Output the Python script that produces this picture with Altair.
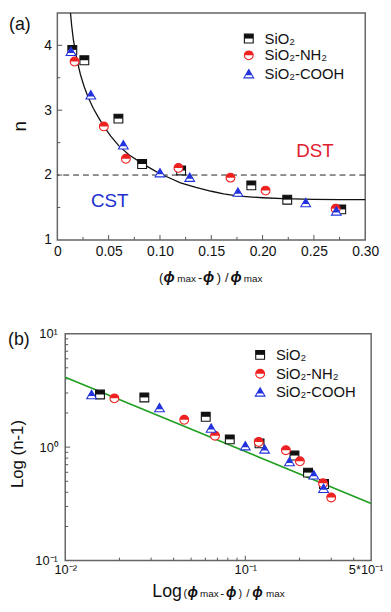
import altair as alt
import pandas as pd

FONT = "Liberation Sans"
TXT = "#111111"
TICK = "#555555"
FRAME = "#666666"

series_names = ["SiO₂", "SiO₂-NH₂", "SiO₂-COOH"]
series_colors = ["#111111", "#ee2020", "#2233dd"]

# ---------------- Panel (a): n vs (phi_max - phi)/phi_max ----------------
a_sio2_x = [0.0146, 0.0263, 0.0595, 0.0826, 0.1206, 0.189, 0.224, 0.2766]
a_sio2_n = [3.93, 3.77, 2.87, 2.17, 2.07, 1.84, 1.62, 1.47]
a_nh2_x = [0.0168, 0.0453, 0.0668, 0.118, 0.1687, 0.2029, 0.2712]
a_nh2_n = [3.75, 2.75, 2.25, 2.11, 1.96, 1.76, 1.48]
a_cooh_x = [0.0133, 0.0326, 0.0643, 0.100, 0.129, 0.176, 0.242, 0.2718]
a_cooh_n = [3.90, 3.23, 2.46, 2.03, 1.96, 1.73, 1.57, 1.44]

curve_x = [0.0128, 0.0140, 0.0155, 0.0171, 0.0195, 0.0225, 0.0260, 0.0300, 0.0350,
           0.0400, 0.0453, 0.0520, 0.0600, 0.0700, 0.0826, 0.0900, 0.1000, 0.1100,
           0.1200, 0.1350, 0.1500, 0.1620, 0.1750, 0.1900, 0.2000, 0.2200, 0.2500,
           0.2750, 0.3000]
curve_n = [4.50, 4.30, 4.10, 3.95, 3.75, 3.55, 3.37, 3.20, 3.03,
           2.89, 2.75, 2.60, 2.45, 2.31, 2.18, 2.11, 2.02, 1.95,
           1.88, 1.81, 1.75, 1.71, 1.68, 1.66, 1.65, 1.635, 1.625,
           1.62, 1.62]
critical_n = [2.0]

a_x_labels = [0, 0.05, 0.10, 0.15, 0.20, 0.25, 0.30]
a_y_labels = [1, 2, 3, 4]
a_x_major_ticks = [0.05, 0.10, 0.15, 0.20, 0.25]
a_x_minor_ticks = [0.025, 0.075, 0.125, 0.175, 0.225, 0.275]
a_y_major_ticks = [2, 3, 4]
a_y_minor_ticks = [1.5, 2.5, 3.5]

# ---------------- Panel (b): log-log ----------------
b_sio2_x = [0.0156, 0.0275, 0.0603, 0.082, 0.120, 0.1875, 0.223, 0.2736]
b_sio2_y = [2.91, 2.74, 1.85, 1.17, 1.08, 0.843, 0.596, 0.473]
b_nh2_x = [0.01875, 0.0458, 0.0679, 0.1187, 0.168, 0.201, 0.270, 0.300]
b_nh2_y = [2.69, 1.74, 1.26, 1.11, 0.94, 0.75, 0.48, 0.36]
b_cooh_x = [0.0140, 0.0334, 0.0646, 0.100, 0.128, 0.176, 0.240, 0.272]
b_cooh_y = [2.88, 2.21, 1.46, 1.02, 0.955, 0.74, 0.565, 0.43]

fit_x = [0.01, 0.5]
fit_y = [4.12, 0.319]

b_x_labels = [0.01, 0.1, 0.5]
b_y_labels = [0.1, 1, 10]
b_x_major_ticks = [0.1]
b_x_minor_ticks = [0.02, 0.03, 0.04, 0.05, 0.06, 0.07, 0.08, 0.09, 0.2, 0.3, 0.4]
b_y_major_ticks = [1]
b_y_minor_ticks = [0.2, 0.3, 0.4, 0.5, 0.6, 0.7, 0.8, 0.9, 2, 3, 4, 5, 6, 7, 8, 9]

title_a_text = ["(", "ϕ", "max", "-", "ϕ", ")", "/", "ϕ", "max"]
title_b_text = ["Log", "(", "ϕ", "max", "-", "ϕ", ")", "/", "ϕ", "max"]

# marker shapes: full outline and filled top half
SQ = ("M-1,-1L1,-1L1,1L-1,1Z", "M-1,-1L1,-1L1,0L-1,0Z")
CI = ("M-1,0A1,1,0,1,1,1,0A1,1,0,1,1,-1,0Z", "M-1,0A1,1,0,0,1,1,0Z")
TR = ("M0,-1.05L1.1,0.85L-1.1,0.85Z", "M0,-1.05L0.753,0.25L-0.753,0.25Z")
SHAPES = [SQ, CI, TR]
MSIZE = 80

WA, HA = 312, 230          # panel (a) plot
BX0, WB, HB = 8, 318, 230  # panel (b) plot spans x = BX0 .. WB inside its view


def marker_layers(xs, ys, X, Y, shape, color):
    df = pd.DataFrame({"x": xs, "y": ys})
    base = alt.Chart(df).encode(x=X, y=Y)
    outline = base.mark_point(shape=shape[0], filled=True, fill="white", stroke=color,
                              strokeWidth=1.1, size=MSIZE, opacity=1)
    half = base.mark_point(shape=shape[1], filled=True, fill=color, strokeWidth=0,
                           size=MSIZE, opacity=1)
    return [outline, half]


def legend_layers(sx, tx, ys):
    layers = []
    for name, shape, color, yy in zip(series_names, SHAPES, series_colors, ys):
        b = alt.Chart(pd.DataFrame({"label": [name]}))
        layers.append(b.mark_point(shape=shape[0], filled=True, fill="white", stroke=color,
                                   strokeWidth=1.1, size=MSIZE, opacity=1)
                      .encode(x=alt.value(sx), y=alt.value(yy)))
        layers.append(b.mark_point(shape=shape[1], filled=True, fill=color, strokeWidth=0,
                                   size=MSIZE, opacity=1)
                      .encode(x=alt.value(sx), y=alt.value(yy)))
        layers.append(b.mark_text(align="left", baseline="middle", font=FONT, fontSize=15,
                                  color=TXT)
                      .encode(x=alt.value(tx), y=alt.value(yy), text="label:N"))
    return layers


def frame_layer(x0, x1, h):
    return alt.Chart(pd.DataFrame({"f": [0]})).mark_rect(
        fill=None, stroke=FRAME, strokeWidth=1.5).encode(
        x=alt.value(x0), x2=alt.value(x1), y=alt.value(0), y2=alt.value(h))


def xtick_layer(vals, X, H, length):
    return alt.Chart(pd.DataFrame({"x": vals})).mark_rule(color=TICK, strokeWidth=1).encode(
        x=X, y=alt.value(H - length), y2=alt.value(H))


def ytick_layer(vals, Y, x0, length):
    return alt.Chart(pd.DataFrame({"y": vals})).mark_rule(color=TICK, strokeWidth=1).encode(
        y=Y, x=alt.value(x0), x2=alt.value(x0 + length))


def text_layer(txt, x, y, size, color=TXT, align="left", baseline="middle",
               angle=0, italic=False, bold=False):
    return alt.Chart(pd.DataFrame({"t": [txt]})).mark_text(
        align=align, baseline=baseline, font=FONT, fontSize=size, color=color,
        angle=angle, fontStyle="italic" if italic else "normal",
        fontWeight="bold" if bold else "normal").encode(
        x=alt.value(x), y=alt.value(y), text="t:N")


def title_layers(texts, offsets, sizes, styles, cx, y):
    out = []
    for t, off, s, st in zip(texts, offsets, sizes, styles):
        out.append(text_layer(t, cx + off, y, s, baseline="alphabetic",
                              italic=st, bold=st))
    return out


# ---------- Panel (a) ----------
ax_a_x = alt.Axis(values=a_x_labels, labelExpr="datum.value == 0 ? '0' : format(datum.value, '.2f')",
                  ticks=False, domain=False, grid=False, title=None, labelFont=FONT,
                  labelFontSize=14, labelColor=TXT, labelPadding=5, labelFlush=False,
                  labelOverlap=False)
ax_a_y = alt.Axis(values=a_y_labels, format="d", ticks=False, domain=False, grid=False,
                  title=None, labelFont=FONT, labelFontSize=14, labelColor=TXT,
                  labelPadding=6, labelOverlap=False)
Xa = alt.X("x:Q", scale=alt.Scale(domain=[0, 0.3], nice=False, zero=False), axis=ax_a_x)
Ya = alt.Y("y:Q", scale=alt.Scale(domain=[1, 4.5], nice=False, zero=False), axis=ax_a_y)

layers_a = [frame_layer(0, WA, HA)]
layers_a.append(xtick_layer(a_x_major_ticks, Xa, HA, 5))
layers_a.append(xtick_layer(a_x_minor_ticks, Xa, HA, 3))
layers_a.append(ytick_layer(a_y_major_ticks, Ya, 0, 5))
layers_a.append(ytick_layer(a_y_minor_ticks, Ya, 0, 3))
layers_a.append(alt.Chart(pd.DataFrame({"y": critical_n})).mark_rule(
    color="#222222", strokeWidth=1, strokeDash=[6, 4]).encode(y=Ya))
layers_a.append(alt.Chart(pd.DataFrame({"x": curve_x, "y": curve_n})).mark_line(
    color="#111111", strokeWidth=1.3, interpolate="linear", clip=True).encode(x=Xa, y=Ya))
for xs, ys, shp, col in [(a_sio2_x, a_sio2_n, SQ, series_colors[0]),
                         (a_nh2_x, a_nh2_n, CI, series_colors[1]),
                         (a_cooh_x, a_cooh_n, TR, series_colors[2])]:
    layers_a += marker_layers(xs, ys, Xa, Ya, shp, col)
layers_a += legend_layers(194, 210, [26, 43, 62])
layers_a.append(text_layer("DST", 261, 140, 19, color="#e02030", align="center"))
layers_a.append(text_layer("CST", 53, 191, 19, color="#2030d0", align="center"))
layers_a.append(text_layer("(a)", -49, 12, 18))
layers_a.append(text_layer("n", -38, 115, 19, align="center", angle=270))
layers_a += title_layers(title_a_text,
                         [-53, -48.5, -34.5, -13.5, -8.5, 5.5, 14, 19.5, 33],
                         [13, 15, 10, 13, 15, 13, 13, 15, 10],
                         [False, True, False, False, True, False, False, True, False],
                         WA / 2, HA + 43)
panel_a = alt.layer(*layers_a).properties(width=WA, height=HA)

# ---------- Panel (b) ----------
ax_b_x = alt.Axis(values=b_x_labels,
                  labelExpr="datum.value < 0.05 ? '10⁻²' : (datum.value < 0.3 ? '10⁻¹' : '5*10⁻¹')",
                  ticks=False, domain=False, grid=False, title=None, labelFont=FONT,
                  labelFontSize=13, labelColor=TXT, labelPadding=3, labelFlush=False,
                  labelOverlap=False,
                  labelAlign={"condition": {"test": "datum.value > 0.3", "value": "right"}, "value": "center"},
                  labelOffset={"condition": {"test": "datum.value > 0.3", "value": 12}, "value": 0})
ax_b_y = alt.Axis(values=b_y_labels,
                  labelExpr="datum.value < 0.5 ? '10⁻¹' : (datum.value < 5 ? '10⁰' : '10¹')",
                  ticks=False, domain=False, grid=False, title=None, labelFont=FONT,
                  labelFontSize=13, labelColor=TXT, labelPadding=0, labelOverlap=False)
Xb = alt.X("x:Q", scale=alt.Scale(type="log", domain=[0.01, 0.5], nice=False,
                                  range=[BX0, WB]), axis=ax_b_x)
Yb = alt.Y("y:Q", scale=alt.Scale(type="log", domain=[0.1, 10], nice=False), axis=ax_b_y)

layers_b = [frame_layer(BX0, WB, HB)]
layers_b.append(xtick_layer(b_x_major_ticks, Xb, HB, 5))
layers_b.append(xtick_layer(b_x_minor_ticks, Xb, HB, 3))
layers_b.append(ytick_layer(b_y_major_ticks, Yb, BX0, 5))
layers_b.append(ytick_layer(b_y_minor_ticks, Yb, BX0, 3))
layers_b.append(alt.Chart(pd.DataFrame({"x": fit_x, "y": fit_y})).mark_line(
    color="#1f9e1f", strokeWidth=1.6).encode(x=Xb, y=Yb))
for xs, ys, shp, col in [(b_sio2_x, b_sio2_y, SQ, series_colors[0]),
                         (b_nh2_x, b_nh2_y, CI, series_colors[1]),
                         (b_cooh_x, b_cooh_y, TR, series_colors[2])]:
    layers_b += marker_layers(xs, ys, Xb, Yb, shp, col)
layers_b += legend_layers(205.5, 221.5, [21.5, 40.6, 59.5])
layers_b.append(text_layer("(b)", -50, 7, 18))
layers_b.append(text_layer("Log (n-1)", -40, 122, 17, align="center", angle=270))
layers_b += title_layers(title_b_text,
                         [-66.8, -35.2, -31.2, -18.5, 2, 8, 20.5, 28.5, 34.5, 48.5],
                         [18, 11, 14, 10, 12, 14, 11, 12, 14, 10],
                         [False, False, True, False, False, True, False, False, True, False],
                         (BX0 + WB) / 2, HB + 37)
panel_b = alt.layer(*layers_b).properties(width=WB, height=HB)

chart = alt.vconcat(panel_a, panel_b, spacing=43).properties(
    padding=0, background="white"
).configure_view(stroke=None)

chart.save("out.html", embed_options={"renderer": "svg", "actions": False})
